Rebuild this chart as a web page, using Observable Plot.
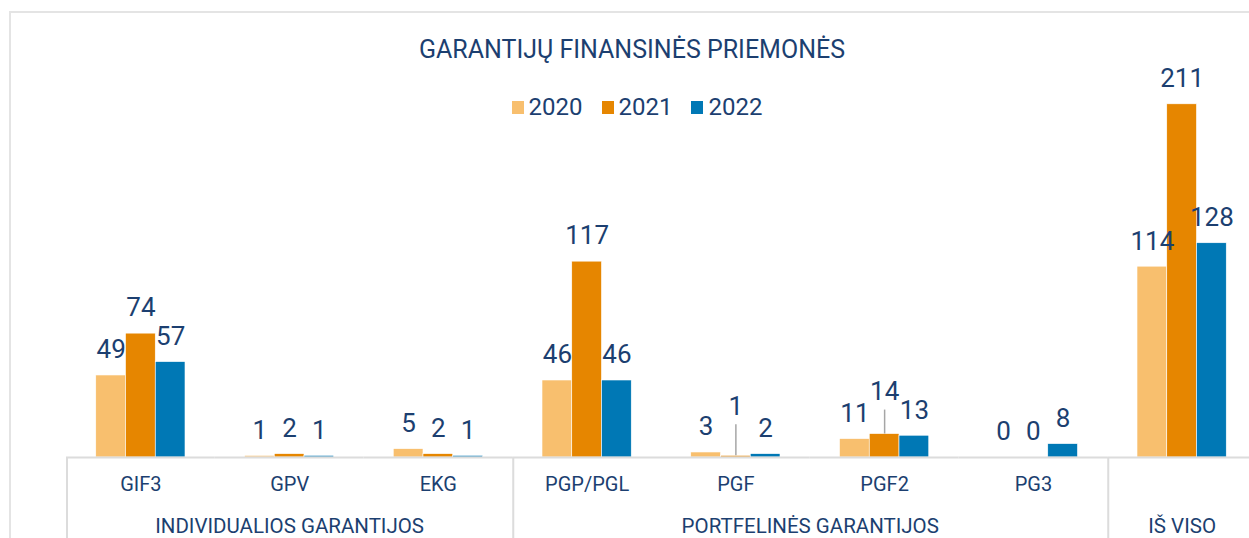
<!DOCTYPE html>
<html>
<head>
<meta charset="utf-8">
<script src="https://cdn.jsdelivr.net/npm/d3@7"></script>
<script src="https://cdn.jsdelivr.net/npm/@observablehq/plot@0.6"></script>
<style>
  html, body { margin: 0; padding: 0; background: #fff; overflow: hidden; }
  #page { position: relative; width: 1249px; height: 538px; overflow: hidden;
          font-family: Roboto, sans-serif; color: #1c3f70; }
  #frame { position: absolute; left: 9px; top: 11px; width: 1300px; height: 600px;
           border: 2px solid #e4e4e4; box-sizing: border-box; }
  #title { position: absolute; left: 0; width: 1264px; top: 35px; line-height: 30px;
           text-align: center; font-size: 25px; }
  #legend { position: absolute; left: 0; width: 1274px; top: 93px; height: 28px;
            display: flex; justify-content: center; align-items: center; gap: 19px; font-size: 24px; }
  #legend .item { display: flex; align-items: center; }
  #legend .sw { width: 12px; height: 13px; margin-right: 5px; }
  #chart { position: absolute; left: 0; top: 60px; width: 1256px; }
  #chart svg { max-width: none !important; }
</style>
</head>
<body>
<div id="page">
  <div id="frame"></div>
  <div id="chart"></div>
  <div id="title"></div>
  <div id="legend"></div>
</div>
<script>
// ---- data ----
const titleText = "GARANTIJŲ FINANSINĖS PRIEMONĖS";
const categories = ["GIF3", "GPV", "EKG", "PGP/PGL", "PGF", "PGF2", "PG3", "IŠ VISO"];
const tickLabels = ["GIF3", "GPV", "EKG", "PGP/PGL", "PGF", "PGF2", "PG3", ""];
const years = ["2020", "2021", "2022"];
const values2020 = [49, 1, 5, 46, 3, 11, 0, 114];
const values2021 = [74, 2, 2, 117, 1, 14, 0, 211];
const values2022 = [57, 1, 1, 46, 2, 13, 8, 128];
const groupNames = ["INDIVIDUALIOS GARANTIJOS", "PORTFELINĖS GARANTIJOS", "IŠ VISO"];
const groupOfCategory = [0, 0, 0, 1, 1, 1, 1, 2];

// ---- style ----
const colors = ["#f8bf6e", "#e68600", "#0078b5"];
const textColor = "#1c3f70";
const gridColor = "#dcdcdc";
const labelFont = "Roboto, sans-serif";
const W = 1256, H = 478, mL = 66, mR = 0, mT = 12, mB = 81, yMax = 230;
const pxPerUnit = (H - mT - mB) / yMax;
const facetW = (W - mL - mR) / categories.length;
// manually lifted labels (with leader lines), pixel lift
const lifted = {"PGF|2021": 24, "PGF2|2021": 17};

// ---- table ----
const series = [values2020, values2021, values2022];
const rows = [];
categories.forEach((c, i) => years.forEach((y, j) => rows.push({cat: c, year: y, value: series[j][i]})));
const key = d => d.cat + "|" + d.year;
const normalRows = rows.filter(d => !(key(d) in lifted));
const liftedRows = rows.filter(d => key(d) in lifted).map(d => ({...d, lift: lifted[key(d)]}));

// group anchors
const groups = groupNames.map((name, g) => {
  const cats = categories.filter((c, i) => groupOfCategory[i] === g);
  const odd = cats.length % 2 === 1;
  return {name, odd, anchor: odd ? cats[(cats.length - 1) / 2] : cats[cats.length / 2 - 1], start: cats[0]};
});

const marks = [
  Plot.barY(rows, {fx: "cat", x: "year", y: "value", fill: "year", stroke: "white", strokeWidth: 0.6}),
  Plot.ruleY([0], {stroke: gridColor, strokeWidth: 2}),
  Plot.rect(groups, {fx: "start", y1: 0, y2: -70, insetRight: facetW - 2, fill: gridColor}),
  Plot.text(normalRows, {fx: "cat", x: "year", y: "value", text: d => String(d.value), dy: -25.5,
    fontSize: 26, fill: textColor, fontFamily: labelFont}),
  Plot.axisFx({anchor: "bottom", tickSize: 0, tickPadding: 19, fontSize: 20, fill: textColor,
    fontFamily: labelFont, label: null, tickFormat: c => tickLabels[categories.indexOf(c)]}),
  Plot.text(groups.filter(g => g.odd), {fx: "anchor", text: "name", frameAnchor: "bottom", lineAnchor: "middle",
    dy: 69, fontSize: 20.5, fill: textColor, fontFamily: labelFont}),
  Plot.text(groups.filter(g => !g.odd), {fx: "anchor", text: "name", frameAnchor: "bottom-right", textAnchor: "middle",
    lineAnchor: "middle", dy: 69, fontSize: 20.5, fill: textColor, fontFamily: labelFont})
];
for (const d of liftedRows) {
  marks.push(Plot.ruleX([d], {fx: "cat", x: "year", y1: "value", y2: r => r.value + (r.lift + 7) / pxPerUnit,
    stroke: "#a6a6a6", strokeWidth: 1.5}));
  marks.push(Plot.text([d], {fx: "cat", x: "year", y: "value", text: r => String(r.value), dy: -25.5 - d.lift,
    fontSize: 26, fill: textColor, fontFamily: labelFont}));
}

const chart = Plot.plot({
  width: W, height: H,
  marginLeft: mL, marginRight: mR, marginTop: mT, marginBottom: mB,
  style: {fontFamily: labelFont, background: "transparent", overflow: "visible", maxWidth: "none"},
  fx: {domain: categories, padding: 0, round: false, label: null},
  x: {domain: years, paddingInner: 0, paddingOuter: 1, round: false, axis: null},
  y: {domain: [0, yMax], axis: null},
  color: {domain: years, range: colors},
  marks
});
chart.style.maxWidth = "none";
chart.style.height = H + "px";
document.getElementById("chart").appendChild(chart);

document.getElementById("title").textContent = titleText;
const legend = document.getElementById("legend");
years.forEach((y, j) => {
  const item = document.createElement("div");
  item.className = "item";
  const sw = document.createElement("div");
  sw.className = "sw";
  sw.style.background = colors[j];
  const t = document.createElement("span");
  t.textContent = y;
  item.appendChild(sw); item.appendChild(t);
  legend.appendChild(item);
});
</script>
</body>
</html>
